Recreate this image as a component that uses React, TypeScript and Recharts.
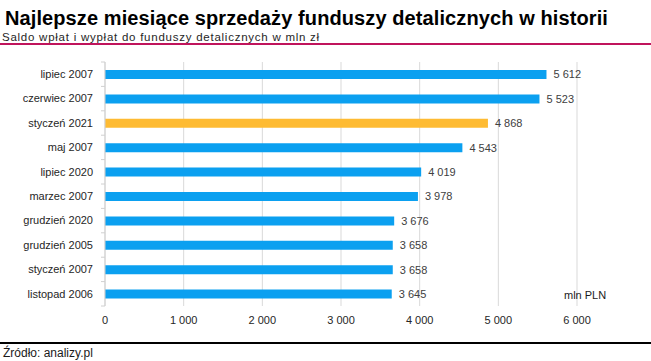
import React from "react";
import { ComposedChart, Bar, XAxis, YAxis, CartesianGrid, Cell, LabelList } from "recharts";

const categories = [
  "lipiec 2007",
  "czerwiec 2007",
  "styczeń 2021",
  "maj 2007",
  "lipiec 2020",
  "marzec 2007",
  "grudzień 2020",
  "grudzień 2005",
  "styczeń 2007",
  "listopad 2006",
];
const values = [5612, 5523, 4868, 4543, 4019, 3978, 3676, 3658, 3658, 3645];
const highlighted = "styczeń 2021";
const xTicks = [0, 1000, 2000, 3000, 4000, 5000, 6000];

const data = categories.map((name, i) => ({ name, value: values[i] }));

const W = 651;
const H = 361;
const M = { top: 62, right: 74, bottom: 25, left: 10 };
const XAXIS_H = 30;
const YAXIS_W = 95;
const BAND = (H - M.top - M.bottom - XAXIS_H) / categories.length;

const BLUE = "#0ba0f0";
const ORANGE = "#febb33";
const FONT = "'Liberation Sans', Arial, sans-serif";

const fmt = (v: number) => String(v).replace(/\B(?=(\d{3})+(?!\d))/g, " ");

const YTick = (props: any) => {
  const { x, y, payload, index } = props;
  const axisX = x + 12;
  return (
    <g>
      <line x1={axisX - 4} x2={axisX} y1={y - BAND / 2} y2={y - BAND / 2} stroke="#d0d0d0" />
      {index === categories.length - 1 && (
        <line x1={axisX - 4} x2={axisX} y1={y + BAND / 2} y2={y + BAND / 2} stroke="#d0d0d0" />
      )}
      <text x={x} y={y} dy="0.35em" textAnchor="end" fontSize={11} fill="#262626" fontFamily={FONT}>
        {payload.value}
      </text>
    </g>
  );
};

export default function App() {
  return (
    <div
      style={{
        position: "absolute",
        left: 0,
        top: 0,
        width: W,
        height: H,
        background: "#fff",
        fontFamily: FONT,
        overflow: "hidden",
      }}
    >
      <div
        style={{
          position: "absolute",
          left: 5,
          top: 6,
          fontSize: 20,
          fontWeight: "bold",
          color: "#000",
          whiteSpace: "nowrap",
          lineHeight: "24px",
          letterSpacing: 0.1,
        }}
      >
        Najlepsze miesiące sprzedaży funduszy detalicznych w historii
      </div>
      <div
        style={{
          position: "absolute",
          left: 2,
          top: 30,
          fontSize: 11.5,
          color: "#262626",
          whiteSpace: "nowrap",
          lineHeight: "14px",
          letterSpacing: 0.75,
        }}
      >
        Saldo wpłat i wypłat do funduszy detalicznych w mln zł
      </div>
      <div style={{ position: "absolute", left: 0, top: 43, width: W, height: 2, background: "#c0145c" }} />

      <ComposedChart width={W} height={H} data={data} layout="vertical" margin={M}>
        <CartesianGrid horizontal={false} stroke="#d9d9d9" />
        <XAxis
          type="number"
          domain={[0, 6000]}
          ticks={xTicks}
          tickFormatter={fmt}
          axisLine={false}
          tickLine={false}
          tickSize={8}
          tickMargin={2}
          height={XAXIS_H}
          tick={{ fontSize: 11, fill: "#262626", fontFamily: FONT }}
          interval={0}
        />
        <YAxis
          type="category"
          dataKey="name"
          width={YAXIS_W}
          axisLine={{ stroke: "#d0d0d0" }}
          tickLine={false}
          tickSize={4}
          tickMargin={8}
          tick={<YTick />}
          interval={0}
        />
        <Bar dataKey="value" barSize={9} isAnimationActive={false}>
          {data.map((d, i) => (
            <Cell key={i} fill={d.name === highlighted ? ORANGE : BLUE} />
          ))}
          <LabelList
            dataKey="value"
            position="right"
            offset={7}
            formatter={(v: any) => fmt(Number(v))}
            style={{ fontSize: 11, fill: "#404040", fontFamily: FONT }}
          />
        </Bar>
      </ComposedChart>

      <div style={{ position: "absolute", left: 564, top: 288, fontSize: 11, color: "#1a1a1a", whiteSpace: "nowrap", lineHeight: "14px" }}>
        mln PLN
      </div>
      <div style={{ position: "absolute", left: 0, top: 342, width: W, height: 1.5, background: "#000" }} />
      <div style={{ position: "absolute", left: 3, top: 346, fontSize: 12, color: "#1a1a1a", whiteSpace: "nowrap", lineHeight: "14px" }}>
        Źródło: analizy.pl
      </div>
    </div>
  );
}
